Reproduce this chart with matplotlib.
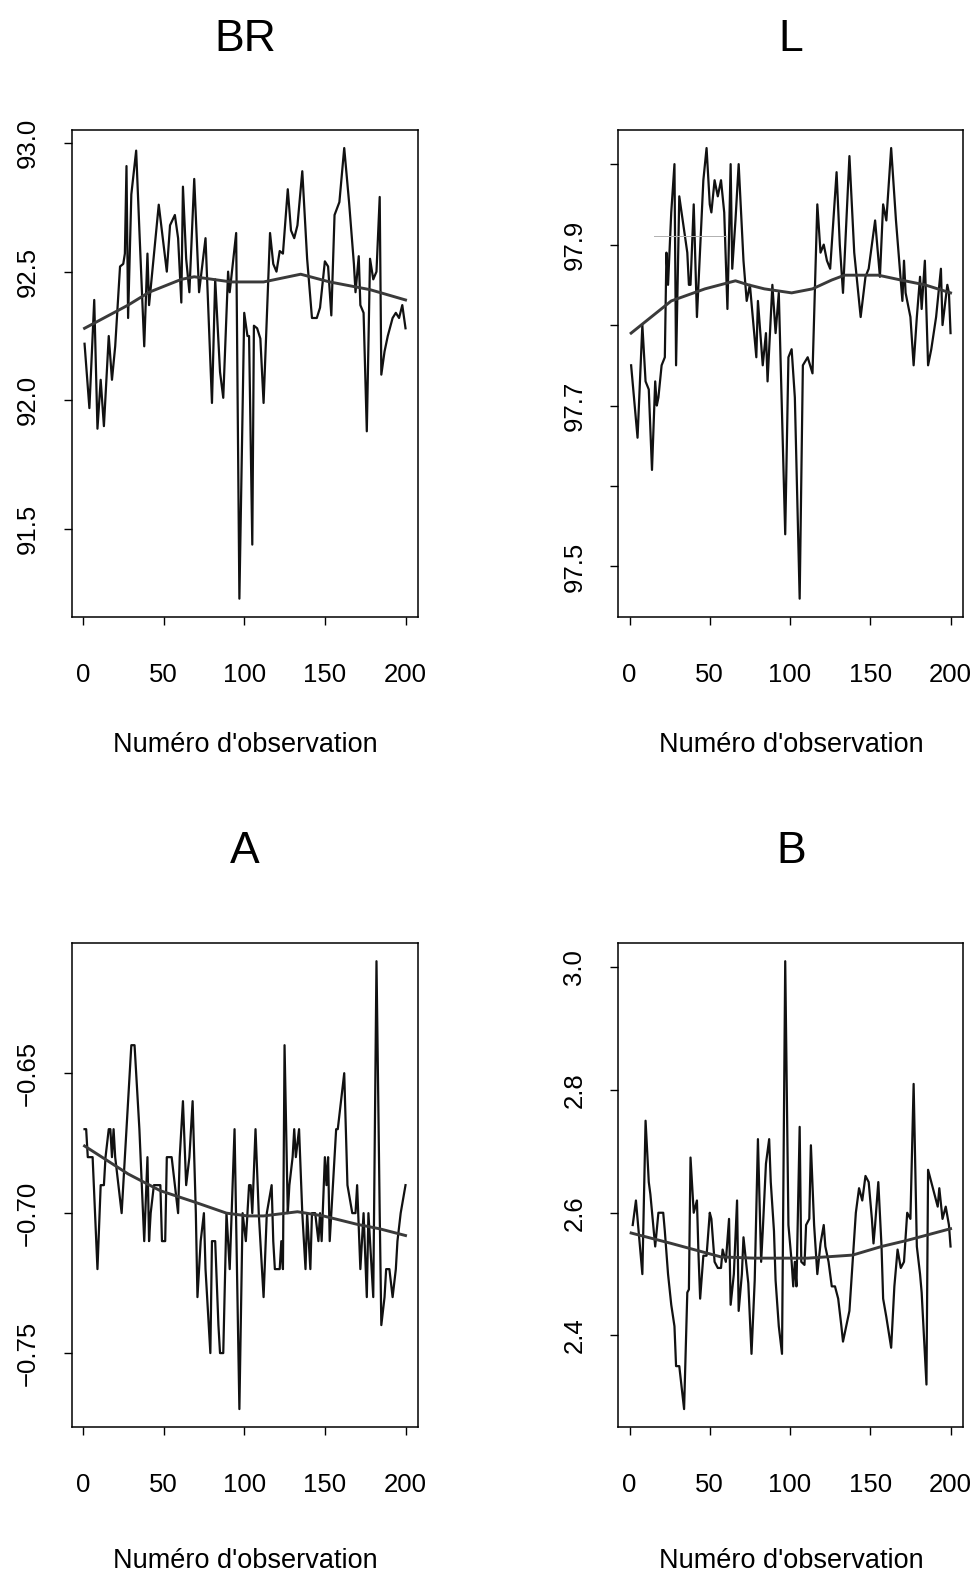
#!/usr/bin/env python3

import matplotlib
matplotlib.use("Agg")
import matplotlib.pyplot as plt

# values (observation number, value)
br_x = [1, 4, 7, 9, 11, 13, 16, 18, 20, 23, 25, 26, 27, 28, 30, 33, 35, 38, 40, 41,
        47, 52, 54, 57, 59, 61, 62, 64, 66, 69, 72, 76, 80, 82, 85, 87, 90, 91, 95, 97,
        100, 102, 103, 105, 106, 108, 110, 112, 116, 118, 120, 122, 124, 127, 129, 131,
        133, 136, 139, 142, 145, 147, 150, 152, 154, 156, 159, 162, 165, 168, 169, 171,
        172, 174, 176, 178, 180, 182, 184, 185, 187, 189, 192, 194, 196, 198, 200]
br_y = [92.22, 91.97, 92.39, 91.89, 92.08, 91.90, 92.25, 92.08, 92.21, 92.52, 92.53,
        92.57, 92.91, 92.32, 92.80, 92.97, 92.66, 92.21, 92.57, 92.37, 92.76, 92.50,
        92.68, 92.72, 92.63, 92.38, 92.83, 92.55, 92.42, 92.86, 92.42, 92.63, 91.99,
        92.47, 92.11, 92.01, 92.50, 92.42, 92.65, 91.23, 92.34, 92.25, 92.25, 91.44,
        92.29, 92.28, 92.24, 91.99, 92.65, 92.53, 92.50, 92.58, 92.57, 92.82, 92.66,
        92.63, 92.68, 92.89, 92.55, 92.32, 92.32, 92.36, 92.54, 92.52, 92.33, 92.72,
        92.77, 92.98, 92.77, 92.53, 92.42, 92.56, 92.37, 92.34, 91.88, 92.55, 92.47,
        92.50, 92.79, 92.10, 92.19, 92.25, 92.32, 92.34, 92.32, 92.37, 92.28]
br_smooth_x = [1, 28, 41, 61, 69, 92, 112, 135, 153, 178, 200]
br_smooth_y = [92.28, 92.37, 92.42, 92.47, 92.48, 92.46, 92.46, 92.49, 92.46, 92.43, 92.39]

l_x = [1, 5, 8, 10, 12, 14, 16, 17, 18, 20, 22, 23, 24, 26, 28, 29, 31, 36, 37, 38,
       40, 42, 46, 48, 50, 51, 53, 55, 57, 59, 61, 63, 64, 66, 68, 71, 73, 75, 79, 80,
       83, 85, 86, 89, 91, 93, 97, 99, 101, 103, 106, 108, 111, 114, 117, 119, 121,
       123, 125, 127, 129, 131, 133, 137, 140, 144, 147, 149, 151, 153, 156, 158, 160,
       163, 166, 168, 170, 171, 172, 175, 177, 179, 181, 182, 184, 186, 188, 191, 194,
       195, 198, 199, 200]
l_y = [97.75, 97.66, 97.80, 97.73, 97.72, 97.62, 97.73, 97.70, 97.71, 97.75, 97.76,
       97.89, 97.85, 97.94, 98.00, 97.75, 97.96, 97.89, 97.85, 97.85, 97.95, 97.81,
       97.98, 98.02, 97.95, 97.94, 97.98, 97.96, 97.98, 97.94, 97.82, 98.00, 97.87,
       97.93, 98.00, 97.88, 97.83, 97.85, 97.76, 97.83, 97.75, 97.79, 97.73, 97.85,
       97.79, 97.84, 97.54, 97.76, 97.77, 97.71, 97.46, 97.75, 97.76, 97.74, 97.95,
       97.89, 97.90, 97.88, 97.87, 97.93, 97.99, 97.90, 97.84, 98.01, 97.89, 97.81,
       97.86, 97.87, 97.90, 97.93, 97.86, 97.95, 97.93, 98.02, 97.93, 97.88, 97.83,
       97.88, 97.84, 97.81, 97.75, 97.81, 97.86, 97.82, 97.88, 97.75, 97.77, 97.81,
       97.87, 97.80, 97.85, 97.84, 97.79]
l_smooth_x = [1, 26, 47, 66, 74, 84, 101, 114, 126, 134, 155, 169, 184, 200]
l_smooth_y = [97.79, 97.83, 97.845, 97.855, 97.85, 97.845, 97.84, 97.845, 97.856,
              97.862, 97.862, 97.856, 97.85, 97.84]
# faint stray rule in the L panel
l_stray_x = [15, 60]
l_stray_y = [97.911, 97.911]

a_x = [1, 2, 3, 6, 9, 11, 13, 14, 16, 17, 18, 19, 20, 22, 24, 26, 29, 30, 32, 33,
       35, 38, 40, 41, 42, 44, 48, 49, 51, 52, 55, 57, 59, 60, 62, 64, 66, 68, 70, 71,
       73, 75, 76, 79, 80, 82, 84, 85, 87, 89, 91, 94, 97, 99, 101, 102, 103, 104, 105,
       107, 109, 112, 114, 117, 118, 119, 122, 123, 124, 125, 127, 128, 130, 131, 132,
       134, 136, 138, 139, 141, 142, 144, 146, 147, 148, 150, 151, 152, 153, 155, 157,
       158, 160, 162, 164, 167, 169, 170, 172, 174, 176, 177, 180, 182, 184, 185, 187,
       188, 190, 192, 194, 195, 197, 200]
a_y = [-0.67, -0.67, -0.68, -0.68, -0.72, -0.69, -0.69, -0.68, -0.67, -0.67, -0.68,
       -0.67, -0.68, -0.69, -0.70, -0.68, -0.65, -0.64, -0.64, -0.65, -0.67, -0.71,
       -0.68, -0.71, -0.70, -0.69, -0.69, -0.71, -0.71, -0.68, -0.68, -0.69, -0.70,
       -0.68, -0.66, -0.69, -0.68, -0.66, -0.70, -0.73, -0.71, -0.70, -0.72, -0.75,
       -0.71, -0.71, -0.74, -0.75, -0.75, -0.70, -0.72, -0.67, -0.77, -0.70, -0.71,
       -0.70, -0.69, -0.69, -0.70, -0.67, -0.70, -0.73, -0.70, -0.69, -0.71, -0.72,
       -0.72, -0.71, -0.72, -0.64, -0.70, -0.69, -0.68, -0.67, -0.68, -0.67, -0.70,
       -0.72, -0.70, -0.72, -0.70, -0.70, -0.71, -0.70, -0.71, -0.68, -0.69, -0.68,
       -0.71, -0.69, -0.67, -0.67, -0.66, -0.65, -0.69, -0.70, -0.70, -0.69, -0.72,
       -0.70, -0.73, -0.70, -0.73, -0.61, -0.70, -0.74, -0.73, -0.72, -0.72, -0.73,
       -0.72, -0.71, -0.70, -0.69]
a_smooth_x = [1, 28, 48, 69, 89, 102, 112, 133, 149, 170, 184, 200]
a_smooth_y = [-0.676, -0.686, -0.692, -0.696, -0.700, -0.701, -0.701, -0.6995,
              -0.701, -0.704, -0.7056, -0.708]

b_x = [2, 4, 5, 8, 10, 12, 13, 16, 18, 21, 22, 24, 26, 28, 29, 31, 34, 36, 37, 38,
       40, 42, 43, 44, 46, 48, 50, 51, 53, 55, 57, 58, 60, 62, 63, 65, 67, 68, 70, 71,
       73, 74, 76, 78, 80, 82, 83, 85, 87, 88, 90, 91, 93, 95, 97, 99, 100, 101, 102,
       103, 104, 106, 107, 109, 110, 112, 113, 115, 117, 119, 121, 122, 124, 126, 128,
       130, 132, 133, 135, 137, 139, 141, 143, 145, 147, 149, 151, 152, 153, 155, 157,
       158, 160, 163, 165, 167, 169, 171, 173, 175, 177, 179, 181, 182, 185, 186, 188,
       190, 192, 193, 195, 197, 199, 200]
b_y = [2.58, 2.62, 2.59, 2.50, 2.75, 2.65, 2.63, 2.545, 2.60, 2.60, 2.57, 2.50, 2.45,
       2.415, 2.35, 2.35, 2.28, 2.47, 2.475, 2.69, 2.60, 2.62, 2.53, 2.46, 2.53, 2.53,
       2.60, 2.59, 2.52, 2.51, 2.51, 2.54, 2.52, 2.59, 2.45, 2.50, 2.62, 2.44, 2.50,
       2.56, 2.51, 2.485, 2.37, 2.49, 2.72, 2.52, 2.57, 2.68, 2.72, 2.65, 2.57, 2.49,
       2.415, 2.37, 3.01, 2.58, 2.55, 2.52, 2.48, 2.52, 2.48, 2.74, 2.52, 2.515, 2.58,
       2.59, 2.71, 2.58, 2.50, 2.55, 2.58, 2.545, 2.52, 2.48, 2.48, 2.46, 2.415, 2.39,
       2.415, 2.44, 2.52, 2.60, 2.64, 2.62, 2.66, 2.65, 2.59, 2.55, 2.58, 2.65, 2.545,
       2.46, 2.43, 2.38, 2.48, 2.54, 2.51, 2.52, 2.60, 2.59, 2.81, 2.545, 2.50, 2.47,
       2.32, 2.67, 2.65, 2.63, 2.61, 2.64, 2.59, 2.61, 2.58, 2.545]
b_smooth_x = [1, 26, 57, 78, 102, 111, 139, 157, 173, 200]
b_smooth_y = [2.567, 2.55, 2.528, 2.526, 2.526, 2.526, 2.531, 2.545, 2.555, 2.574]

x_ticks = [0, 50, 100, 150, 200]
br_ticks = [91.5, 92.0, 92.5, 93.0]
br_labels = ["91.5", "92.0", "92.5", "93.0"]
l_ticks = [97.5, 97.6, 97.7, 97.8, 97.9, 98.0]
l_labels = ["97.5", "", "97.7", "", "97.9", ""]
a_ticks = [-0.75, -0.70, -0.65]
a_labels = ["\u22120.75", "\u22120.70", "\u22120.65"]
b_ticks = [2.4, 2.6, 2.8, 3.0]
b_labels = ["2.4", "2.6", "2.8", "3.0"]

xlabel = "Numéro d'observation"


def draw_panel(ax, title, x, y, sx, sy, yticks, ylabels, label_off, title_off):
    ax.plot(x, y, color="#111111", lw=1.6)
    ax.plot(sx, sy, color="#3a3a3a", lw=2.1)
    ax.margins(x=0.04, y=0.04)

    ax.set_xticks(x_ticks, [str(t) for t in x_ticks])
    ax.set_yticks(yticks, ylabels)
    ax.tick_params(axis="both", direction="out", length=6, width=1.0,
                   labelsize=18.5, color="black")
    ax.tick_params(axis="x", pad=27)
    ax.tick_params(axis="y", pad=17, labelrotation=90)
    for lab in ax.get_yticklabels():
        lab.set_va("center")

    for s in ax.spines.values():
        s.set_linewidth(1.1)

    ax.set_xlabel(xlabel, fontsize=19.5)
    ax.xaxis.set_label_coords(0.5, -label_off)
    ax.annotate(title, xy=(0.5, 1.0), xycoords="axes fraction",
                xytext=(0, title_off), textcoords="offset points",
                ha="center", va="center", fontsize=32)


def main():
    plt.rcParams["font.family"] = ["Liberation Sans", "DejaVu Sans"]

    fig = plt.figure(figsize=(9.77, 15.74), dpi=100)
    ax_br = fig.add_axes([0.0734, 0.6082, 0.3548, 0.3092])
    ax_l = fig.add_axes([0.6329, 0.6082, 0.3531, 0.3092])
    ax_a = fig.add_axes([0.0734, 0.0934, 0.3548, 0.3073])
    ax_b = fig.add_axes([0.6329, 0.0934, 0.3531, 0.3073])

    draw_panel(ax_br, "BR", br_x, br_y, br_smooth_x, br_smooth_y, br_ticks, br_labels, 0.237, 65)
    draw_panel(ax_l, "L", l_x, l_y, l_smooth_x, l_smooth_y, l_ticks, l_labels, 0.237, 65)
    ax_l.plot(l_stray_x, l_stray_y, color="#b0b0b0", lw=0.7)
    draw_panel(ax_a, "A", a_x, a_y, a_smooth_x, a_smooth_y, a_ticks, a_labels, 0.250, 66)
    draw_panel(ax_b, "B", b_x, b_y, b_smooth_x, b_smooth_y, b_ticks, b_labels, 0.250, 66)

    fig.savefig("out.png", dpi=100, facecolor="white")


if __name__ == "__main__":
    main()
